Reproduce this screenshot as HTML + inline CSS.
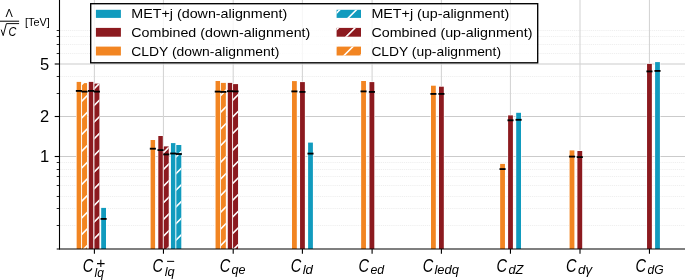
<!DOCTYPE html><html><head><meta charset="utf-8"><style>html,body{margin:0;padding:0;background:#fff;}svg{display:block;will-change:transform;}text{font-family:"Liberation Sans",sans-serif;}</style></head><body>
<svg width="685" height="280" viewBox="0 0 685 280">
<defs>
<pattern id="h" patternUnits="userSpaceOnUse" width="16.667" height="16.667" x="16.200" y="0"><path d="M-2,2 L2,-2 M0,16.667 L16.667,0 M14.667000000000002,18.667 L18.667,14.667000000000002" stroke="#fff" stroke-width="1.6"/></pattern>
</defs>
<rect width="685" height="280" fill="#fff"/>
<line x1="59.5" x2="685" y1="225.50" y2="225.50" stroke="#ebebeb" stroke-width="0.8" stroke-dasharray="1.2,0.9"/>
<line x1="59.5" x2="685" y1="208.50" y2="208.50" stroke="#ebebeb" stroke-width="0.8" stroke-dasharray="1.2,0.9"/>
<line x1="59.5" x2="685" y1="196.50" y2="196.50" stroke="#ebebeb" stroke-width="0.8" stroke-dasharray="1.2,0.9"/>
<line x1="59.5" x2="685" y1="185.50" y2="185.50" stroke="#ebebeb" stroke-width="0.8" stroke-dasharray="1.2,0.9"/>
<line x1="59.5" x2="685" y1="176.50" y2="176.50" stroke="#ebebeb" stroke-width="0.8" stroke-dasharray="1.2,0.9"/>
<line x1="59.5" x2="685" y1="169.50" y2="169.50" stroke="#ebebeb" stroke-width="0.8" stroke-dasharray="1.2,0.9"/>
<line x1="59.5" x2="685" y1="162.50" y2="162.50" stroke="#ebebeb" stroke-width="0.8" stroke-dasharray="1.2,0.9"/>
<line x1="59.5" x2="685" y1="93.50" y2="93.50" stroke="#ebebeb" stroke-width="0.8" stroke-dasharray="1.2,0.9"/>
<line x1="59.5" x2="685" y1="76.50" y2="76.50" stroke="#ebebeb" stroke-width="0.8" stroke-dasharray="1.2,0.9"/>
<line x1="59.5" x2="685" y1="53.50" y2="53.50" stroke="#ebebeb" stroke-width="0.8" stroke-dasharray="1.2,0.9"/>
<line x1="59.5" x2="685" y1="44.50" y2="44.50" stroke="#ebebeb" stroke-width="0.8" stroke-dasharray="1.2,0.9"/>
<line x1="59.5" x2="685" y1="36.50" y2="36.50" stroke="#ebebeb" stroke-width="0.8" stroke-dasharray="1.2,0.9"/>
<line x1="59.5" x2="685" y1="30.50" y2="30.50" stroke="#ebebeb" stroke-width="0.8" stroke-dasharray="1.2,0.9"/>
<line x1="59.5" x2="685" y1="156.50" y2="156.50" stroke="#cbcbcb" stroke-width="1.1"/>
<line x1="59.5" x2="685" y1="116.50" y2="116.50" stroke="#cbcbcb" stroke-width="1.1"/>
<line x1="59.5" x2="685" y1="64.00" y2="64.00" stroke="#cbcbcb" stroke-width="1.1"/>
<line x1="94.4" x2="94.4" y1="0" y2="249.0" stroke="#d5d5d5" stroke-width="1.1"/>
<line x1="163.45" x2="163.45" y1="0" y2="249.0" stroke="#d5d5d5" stroke-width="1.1"/>
<line x1="233.2" x2="233.2" y1="0" y2="249.0" stroke="#d5d5d5" stroke-width="1.1"/>
<line x1="302.4" x2="302.4" y1="0" y2="249.0" stroke="#d5d5d5" stroke-width="1.1"/>
<line x1="372.1" x2="372.1" y1="0" y2="249.0" stroke="#d5d5d5" stroke-width="1.1"/>
<line x1="441.4" x2="441.4" y1="0" y2="249.0" stroke="#d5d5d5" stroke-width="1.1"/>
<line x1="510.45" x2="510.45" y1="0" y2="249.0" stroke="#d5d5d5" stroke-width="1.1"/>
<line x1="580.0" x2="580.0" y1="0" y2="249.0" stroke="#d5d5d5" stroke-width="1.1"/>
<line x1="649.45" x2="649.45" y1="0" y2="249.0" stroke="#d5d5d5" stroke-width="1.1"/>
<rect x="76.10" y="81.35" width="5.60" height="167.65" fill="#fff"/>
<rect x="76.65" y="81.90" width="4.5" height="167.10" fill="#f28522"/>
<rect x="81.50" y="82.55" width="6.10" height="166.45" fill="#fff"/>
<rect x="82.05" y="83.10" width="5.0" height="165.90" fill="#f28522"/>
<clipPath id="c1"><rect x="82.05" y="83.10" width="5.00" height="165.90"/></clipPath><path d="M80.05,52.82L89.05,43.82M80.05,69.49L89.05,60.49M80.05,86.15L89.05,77.15M80.05,102.82L89.05,93.82M80.05,119.49L89.05,110.49M80.05,136.15L89.05,127.15M80.05,152.82L89.05,143.82M80.05,169.49L89.05,160.49M80.05,186.16L89.05,177.16M80.05,202.82L89.05,193.82M80.05,219.49L89.05,210.49M80.05,236.16L89.05,227.16M80.05,252.82L89.05,243.82M80.05,269.49L89.05,260.49M80.05,286.16L89.05,277.16" stroke="#fff" stroke-width="1.6" clip-path="url(#c1)"/>
<rect x="88.25" y="81.35" width="5.60" height="167.65" fill="#fff"/>
<rect x="88.80" y="81.90" width="4.5" height="167.10" fill="#8c1a1f"/>
<rect x="93.85" y="83.05" width="6.10" height="165.95" fill="#fff"/>
<rect x="94.40" y="83.60" width="5.0" height="165.40" fill="#8c1a1f"/>
<clipPath id="c2"><rect x="94.40" y="83.60" width="5.00" height="165.40"/></clipPath><path d="M92.40,57.14L101.40,48.14M92.40,73.80L101.40,64.80M92.40,90.47L101.40,81.47M92.40,107.14L101.40,98.14M92.40,123.80L101.40,114.80M92.40,140.47L101.40,131.47M92.40,157.14L101.40,148.14M92.40,173.81L101.40,164.81M92.40,190.47L101.40,181.47M92.40,207.14L101.40,198.14M92.40,223.81L101.40,214.81M92.40,240.47L101.40,231.47M92.40,257.14L101.40,248.14M92.40,273.81L101.40,264.81" stroke="#fff" stroke-width="1.6" clip-path="url(#c2)"/>
<rect x="100.65" y="207.35" width="5.90" height="41.65" fill="#fff"/>
<rect x="101.20" y="207.90" width="4.8" height="41.10" fill="#119bbe"/>
<rect x="150.05" y="139.45" width="5.60" height="109.55" fill="#fff"/>
<rect x="150.60" y="140.00" width="4.5" height="109.00" fill="#f28522"/>
<rect x="157.75" y="135.45" width="5.60" height="113.55" fill="#fff"/>
<rect x="158.30" y="136.00" width="4.5" height="113.00" fill="#8c1a1f"/>
<rect x="163.20" y="145.85" width="6.10" height="103.15" fill="#fff"/>
<rect x="163.75" y="146.40" width="5.0" height="102.60" fill="#8c1a1f"/>
<clipPath id="c3"><rect x="163.75" y="146.40" width="5.00" height="102.60"/></clipPath><path d="M161.75,121.12L170.75,112.12M161.75,137.79L170.75,128.79M161.75,154.46L170.75,145.46M161.75,171.12L170.75,162.12M161.75,187.79L170.75,178.79M161.75,204.46L170.75,195.46M161.75,221.12L170.75,212.12M161.75,237.79L170.75,228.79M161.75,254.46L170.75,245.46M161.75,271.13L170.75,262.13M161.75,287.79L170.75,278.79" stroke="#fff" stroke-width="1.6" clip-path="url(#c3)"/>
<rect x="170.40" y="142.55" width="5.60" height="106.45" fill="#fff"/>
<rect x="170.95" y="143.10" width="4.5" height="105.90" fill="#119bbe"/>
<rect x="175.75" y="144.45" width="6.10" height="104.55" fill="#fff"/>
<rect x="176.30" y="145.00" width="5.0" height="104.00" fill="#119bbe"/>
<clipPath id="c4"><rect x="176.30" y="145.00" width="5.00" height="104.00"/></clipPath><path d="M174.30,125.24L183.30,116.24M174.30,141.91L183.30,132.91M174.30,158.57L183.30,149.57M174.30,175.24L183.30,166.24M174.30,191.91L183.30,182.91M174.30,208.57L183.30,199.57M174.30,225.24L183.30,216.24M174.30,241.91L183.30,232.91M174.30,258.58L183.30,249.58M174.30,275.24L183.30,266.24" stroke="#fff" stroke-width="1.6" clip-path="url(#c4)"/>
<rect x="215.00" y="80.45" width="5.60" height="168.55" fill="#fff"/>
<rect x="215.55" y="81.00" width="4.5" height="168.00" fill="#f28522"/>
<rect x="220.30" y="82.35" width="6.10" height="166.65" fill="#fff"/>
<rect x="220.85" y="82.90" width="5.0" height="166.10" fill="#f28522"/>
<clipPath id="c5"><rect x="220.85" y="82.90" width="5.00" height="166.10"/></clipPath><path d="M218.85,64.02L227.85,55.02M218.85,80.69L227.85,71.69M218.85,97.36L227.85,88.36M218.85,114.02L227.85,105.02M218.85,130.69L227.85,121.69M218.85,147.36L227.85,138.36M218.85,164.02L227.85,155.02M218.85,180.69L227.85,171.69M218.85,197.36L227.85,188.36M218.85,214.03L227.85,205.03M218.85,230.69L227.85,221.69M218.85,247.36L227.85,238.36M218.85,264.03L227.85,255.03M218.85,280.69L227.85,271.69" stroke="#fff" stroke-width="1.6" clip-path="url(#c5)"/>
<rect x="227.25" y="82.35" width="5.60" height="166.65" fill="#fff"/>
<rect x="227.80" y="82.90" width="4.5" height="166.10" fill="#8c1a1f"/>
<rect x="232.50" y="83.55" width="6.10" height="165.45" fill="#fff"/>
<rect x="233.05" y="84.10" width="5.0" height="164.90" fill="#8c1a1f"/>
<clipPath id="c6"><rect x="233.05" y="84.10" width="5.00" height="164.90"/></clipPath><path d="M231.05,68.49L240.05,59.49M231.05,85.16L240.05,76.16M231.05,101.82L240.05,92.82M231.05,118.49L240.05,109.49M231.05,135.16L240.05,126.16M231.05,151.82L240.05,142.82M231.05,168.49L240.05,159.49M231.05,185.16L240.05,176.16M231.05,201.83L240.05,192.83M231.05,218.49L240.05,209.49M231.05,235.16L240.05,226.16M231.05,251.83L240.05,242.83M231.05,268.49L240.05,259.49M231.05,285.16L240.05,276.16" stroke="#fff" stroke-width="1.6" clip-path="url(#c6)"/>
<rect x="291.45" y="80.55" width="5.90" height="168.45" fill="#fff"/>
<rect x="292.00" y="81.10" width="4.8" height="167.90" fill="#f28522"/>
<rect x="299.50" y="81.55" width="5.90" height="167.45" fill="#fff"/>
<rect x="300.05" y="82.10" width="4.8" height="166.90" fill="#8c1a1f"/>
<rect x="307.55" y="142.05" width="5.90" height="106.95" fill="#fff"/>
<rect x="308.10" y="142.60" width="4.8" height="106.40" fill="#119bbe"/>
<rect x="360.60" y="80.45" width="5.90" height="168.55" fill="#fff"/>
<rect x="361.15" y="81.00" width="4.8" height="168.00" fill="#f28522"/>
<rect x="368.95" y="81.55" width="5.90" height="167.45" fill="#fff"/>
<rect x="369.50" y="82.10" width="4.8" height="166.90" fill="#8c1a1f"/>
<rect x="430.45" y="85.15" width="5.90" height="163.85" fill="#fff"/>
<rect x="431.00" y="85.70" width="4.8" height="163.30" fill="#f28522"/>
<rect x="438.45" y="86.15" width="5.90" height="162.85" fill="#fff"/>
<rect x="439.00" y="86.70" width="4.8" height="162.30" fill="#8c1a1f"/>
<rect x="499.60" y="163.35" width="5.90" height="85.65" fill="#fff"/>
<rect x="500.15" y="163.90" width="4.8" height="85.10" fill="#f28522"/>
<rect x="507.55" y="114.85" width="5.90" height="134.15" fill="#fff"/>
<rect x="508.10" y="115.40" width="4.8" height="133.60" fill="#8c1a1f"/>
<rect x="515.65" y="112.25" width="5.90" height="136.75" fill="#fff"/>
<rect x="516.20" y="112.80" width="4.8" height="136.20" fill="#119bbe"/>
<rect x="569.05" y="149.85" width="5.90" height="99.15" fill="#fff"/>
<rect x="569.60" y="150.40" width="4.8" height="98.60" fill="#f28522"/>
<rect x="576.85" y="150.45" width="5.90" height="98.55" fill="#fff"/>
<rect x="577.40" y="151.00" width="4.8" height="98.00" fill="#8c1a1f"/>
<rect x="646.50" y="63.35" width="5.90" height="185.65" fill="#fff"/>
<rect x="647.05" y="63.90" width="4.8" height="185.10" fill="#8c1a1f"/>
<rect x="654.55" y="61.55" width="5.90" height="187.45" fill="#fff"/>
<rect x="655.10" y="62.10" width="4.8" height="186.90" fill="#119bbe"/>
<line x1="75.85" x2="81.95" y1="90.9" y2="90.9" stroke="#000" stroke-width="1.85"/>
<line x1="81.50" x2="87.60" y1="91.6" y2="91.6" stroke="#000" stroke-width="1.85"/>
<line x1="88.00" x2="94.10" y1="90.9" y2="90.9" stroke="#000" stroke-width="1.85"/>
<line x1="93.85" x2="99.95" y1="91.6" y2="91.6" stroke="#000" stroke-width="1.85"/>
<line x1="100.55" x2="106.65" y1="218.9" y2="218.9" stroke="#000" stroke-width="1.85"/>
<line x1="149.80" x2="155.90" y1="148.7" y2="148.7" stroke="#000" stroke-width="1.85"/>
<line x1="157.50" x2="163.60" y1="150.1" y2="150.1" stroke="#000" stroke-width="1.85"/>
<line x1="163.20" x2="169.30" y1="154.4" y2="154.4" stroke="#000" stroke-width="1.85"/>
<line x1="170.15" x2="176.25" y1="153.5" y2="153.5" stroke="#000" stroke-width="1.85"/>
<line x1="175.75" x2="181.85" y1="154" y2="154" stroke="#000" stroke-width="1.85"/>
<line x1="214.75" x2="220.85" y1="91.6" y2="91.6" stroke="#000" stroke-width="1.85"/>
<line x1="220.30" x2="226.40" y1="91.9" y2="91.9" stroke="#000" stroke-width="1.85"/>
<line x1="227.00" x2="233.10" y1="91.2" y2="91.2" stroke="#000" stroke-width="1.85"/>
<line x1="232.50" x2="238.60" y1="91.4" y2="91.4" stroke="#000" stroke-width="1.85"/>
<line x1="291.35" x2="297.45" y1="91.4" y2="91.4" stroke="#000" stroke-width="1.85"/>
<line x1="299.40" x2="305.50" y1="91.9" y2="91.9" stroke="#000" stroke-width="1.85"/>
<line x1="307.45" x2="313.55" y1="153.6" y2="153.6" stroke="#000" stroke-width="1.85"/>
<line x1="360.50" x2="366.60" y1="91.4" y2="91.4" stroke="#000" stroke-width="1.85"/>
<line x1="368.85" x2="374.95" y1="91.9" y2="91.9" stroke="#000" stroke-width="1.85"/>
<line x1="430.35" x2="436.45" y1="93.9" y2="93.9" stroke="#000" stroke-width="1.85"/>
<line x1="438.35" x2="444.45" y1="93.9" y2="93.9" stroke="#000" stroke-width="1.85"/>
<line x1="499.50" x2="505.60" y1="169.1" y2="169.1" stroke="#000" stroke-width="1.85"/>
<line x1="507.45" x2="513.55" y1="120.3" y2="120.3" stroke="#000" stroke-width="1.85"/>
<line x1="515.55" x2="521.65" y1="119.8" y2="119.8" stroke="#000" stroke-width="1.85"/>
<line x1="568.95" x2="575.05" y1="156.6" y2="156.6" stroke="#000" stroke-width="1.85"/>
<line x1="576.75" x2="582.85" y1="157.1" y2="157.1" stroke="#000" stroke-width="1.85"/>
<line x1="646.40" x2="652.50" y1="71.4" y2="71.4" stroke="#000" stroke-width="1.85"/>
<line x1="654.45" x2="660.55" y1="70.9" y2="70.9" stroke="#000" stroke-width="1.85"/>
<line x1="59.5" x2="59.5" y1="0" y2="249.55" stroke="#000" stroke-width="1.1"/>
<line x1="56.7" x2="685" y1="249.0" y2="249.0" stroke="#000" stroke-width="1.1"/>
<line x1="54.7" x2="59.5" y1="156.50" y2="156.50" stroke="#000" stroke-width="1.1"/>
<line x1="54.7" x2="59.5" y1="116.50" y2="116.50" stroke="#000" stroke-width="1.1"/>
<line x1="54.7" x2="59.5" y1="64.00" y2="64.00" stroke="#000" stroke-width="1.1"/>
<line x1="56.7" x2="59.5" y1="225.50" y2="225.50" stroke="#000" stroke-width="0.85"/>
<line x1="56.7" x2="59.5" y1="208.50" y2="208.50" stroke="#000" stroke-width="0.85"/>
<line x1="56.7" x2="59.5" y1="196.50" y2="196.50" stroke="#000" stroke-width="0.85"/>
<line x1="56.7" x2="59.5" y1="185.50" y2="185.50" stroke="#000" stroke-width="0.85"/>
<line x1="56.7" x2="59.5" y1="176.50" y2="176.50" stroke="#000" stroke-width="0.85"/>
<line x1="56.7" x2="59.5" y1="169.50" y2="169.50" stroke="#000" stroke-width="0.85"/>
<line x1="56.7" x2="59.5" y1="162.50" y2="162.50" stroke="#000" stroke-width="0.85"/>
<line x1="56.7" x2="59.5" y1="93.50" y2="93.50" stroke="#000" stroke-width="0.85"/>
<line x1="56.7" x2="59.5" y1="76.50" y2="76.50" stroke="#000" stroke-width="0.85"/>
<line x1="56.7" x2="59.5" y1="53.50" y2="53.50" stroke="#000" stroke-width="0.85"/>
<line x1="56.7" x2="59.5" y1="44.50" y2="44.50" stroke="#000" stroke-width="0.85"/>
<line x1="56.7" x2="59.5" y1="36.50" y2="36.50" stroke="#000" stroke-width="0.85"/>
<line x1="56.7" x2="59.5" y1="30.50" y2="30.50" stroke="#000" stroke-width="0.85"/>
<line x1="94.4" x2="94.4" y1="249.0" y2="253.8" stroke="#000" stroke-width="1.1"/>
<line x1="163.45" x2="163.45" y1="249.0" y2="253.8" stroke="#000" stroke-width="1.1"/>
<line x1="233.2" x2="233.2" y1="249.0" y2="253.8" stroke="#000" stroke-width="1.1"/>
<line x1="302.4" x2="302.4" y1="249.0" y2="253.8" stroke="#000" stroke-width="1.1"/>
<line x1="372.1" x2="372.1" y1="249.0" y2="253.8" stroke="#000" stroke-width="1.1"/>
<line x1="441.4" x2="441.4" y1="249.0" y2="253.8" stroke="#000" stroke-width="1.1"/>
<line x1="510.45" x2="510.45" y1="249.0" y2="253.8" stroke="#000" stroke-width="1.1"/>
<line x1="580.0" x2="580.0" y1="249.0" y2="253.8" stroke="#000" stroke-width="1.1"/>
<line x1="649.45" x2="649.45" y1="249.0" y2="253.8" stroke="#000" stroke-width="1.1"/>
<text x="49.3" y="162.30" font-size="16.5" text-anchor="end" fill="#000">1</text>
<text x="49.3" y="122.30" font-size="16.5" text-anchor="end" fill="#000">2</text>
<text x="49.3" y="69.80" font-size="16.5" text-anchor="end" fill="#000">5</text>
<rect x="90.7" y="3.7" width="447" height="59.1" fill="#fff" fill-opacity="0.8" stroke="#000" stroke-width="1.35"/>
<rect x="95.9" y="9.8" width="25" height="8.10" fill="#119bbe"/>
<rect x="336.6" y="9.8" width="24.4" height="8.10" fill="#119bbe"/>
<clipPath id="c7"><rect x="336.60" y="9.80" width="24.40" height="8.10"/></clipPath><path d="M334.60,-18.39L363.00,-46.79M334.60,-1.73L363.00,-30.13M334.60,14.94L363.00,-13.46M334.60,31.61L363.00,3.21M334.60,48.27L363.00,19.87M334.60,64.94L363.00,36.54" stroke="#fff" stroke-width="1.6" clip-path="url(#c7)"/>
<text x="131.3" y="18.2" font-size="12.8" textLength="156" lengthAdjust="spacingAndGlyphs">MET+j (down-alignment)</text>
<text x="371.4" y="18.2" font-size="12.8" textLength="137.8" lengthAdjust="spacingAndGlyphs">MET+j (up-alignment)</text>
<rect x="95.9" y="27.9" width="25" height="8.80" fill="#8c1a1f"/>
<rect x="336.6" y="27.9" width="24.4" height="8.80" fill="#8c1a1f"/>
<clipPath id="c8"><rect x="336.60" y="27.90" width="24.40" height="8.80"/></clipPath><path d="M334.60,-1.73L363.00,-30.13M334.60,14.94L363.00,-13.46M334.60,31.61L363.00,3.21M334.60,48.27L363.00,19.87M334.60,64.94L363.00,36.54M334.60,81.61L363.00,53.21" stroke="#fff" stroke-width="1.6" clip-path="url(#c8)"/>
<text x="131.3" y="36.9" font-size="12.8" textLength="179" lengthAdjust="spacingAndGlyphs">Combined (down-alignment)</text>
<text x="371.4" y="36.9" font-size="12.8" textLength="161" lengthAdjust="spacingAndGlyphs">Combined (up-alignment)</text>
<rect x="95.9" y="46.6" width="25" height="8.90" fill="#f28522"/>
<rect x="336.6" y="46.6" width="24.4" height="8.90" fill="#f28522"/>
<clipPath id="c9"><rect x="336.60" y="46.60" width="24.40" height="8.90"/></clipPath><path d="M334.60,31.61L363.00,3.21M334.60,48.27L363.00,19.87M334.60,64.94L363.00,36.54M334.60,81.61L363.00,53.21M334.60,98.28L363.00,69.88M334.60,114.94L363.00,86.54" stroke="#fff" stroke-width="1.6" clip-path="url(#c9)"/>
<text x="131.3" y="55.6" font-size="12.8" textLength="148" lengthAdjust="spacingAndGlyphs">CLDY (down-alignment)</text>
<text x="371.4" y="55.6" font-size="12.8" textLength="129.6" lengthAdjust="spacingAndGlyphs">CLDY (up-alignment)</text>
<text x="82.80" y="271.80" font-size="17.5" font-style="italic" textLength="10.53" lengthAdjust="spacingAndGlyphs">C</text>
<text x="94.51" y="277.00" font-size="12.2" font-style="italic" textLength="9.27" lengthAdjust="spacingAndGlyphs">lq</text>
<text x="96.24" y="267.50" font-size="14.7" textLength="9.14" lengthAdjust="spacingAndGlyphs">+</text>
<text x="152.60" y="271.80" font-size="17.5" font-style="italic" textLength="10.53" lengthAdjust="spacingAndGlyphs">C</text>
<text x="164.70" y="275.80" font-size="12.2" font-style="italic" textLength="9.89" lengthAdjust="spacingAndGlyphs">lq</text>
<text x="166.28" y="266.25" font-size="14.6" textLength="8.53" lengthAdjust="spacingAndGlyphs">−</text>
<text x="219.80" y="271.80" font-size="17.5" font-style="italic" textLength="10.53" lengthAdjust="spacingAndGlyphs">C</text>
<text x="231.48" y="274.20" font-size="12.2" font-style="italic" textLength="13.99" lengthAdjust="spacingAndGlyphs">qe</text>
<text x="290.70" y="271.80" font-size="17.5" font-style="italic" textLength="10.53" lengthAdjust="spacingAndGlyphs">C</text>
<text x="302.69" y="274.20" font-size="12.2" font-style="italic" textLength="10.26" lengthAdjust="spacingAndGlyphs">ld</text>
<text x="358.50" y="271.80" font-size="17.5" font-style="italic" textLength="10.53" lengthAdjust="spacingAndGlyphs">C</text>
<text x="370.49" y="274.20" font-size="12.2" font-style="italic" textLength="13.69" lengthAdjust="spacingAndGlyphs">ed</text>
<text x="422.80" y="271.80" font-size="17.5" font-style="italic" textLength="10.53" lengthAdjust="spacingAndGlyphs">C</text>
<text x="434.49" y="274.20" font-size="12.2" font-style="italic" textLength="24.40" lengthAdjust="spacingAndGlyphs">ledq</text>
<text x="496.50" y="271.80" font-size="17.5" font-style="italic" textLength="10.53" lengthAdjust="spacingAndGlyphs">C</text>
<text x="508.47" y="274.20" font-size="12.2" font-style="italic" textLength="14.98" lengthAdjust="spacingAndGlyphs">dZ</text>
<text x="566.10" y="271.80" font-size="17.5" font-style="italic" textLength="10.53" lengthAdjust="spacingAndGlyphs">C</text>
<text x="578.05" y="274.20" font-size="12.2" font-style="italic" textLength="14.12" lengthAdjust="spacingAndGlyphs">dγ</text>
<text x="635.50" y="271.80" font-size="17.5" font-style="italic" textLength="10.53" lengthAdjust="spacingAndGlyphs">C</text>
<text x="647.49" y="274.20" font-size="12.2" font-style="italic" textLength="16.13" lengthAdjust="spacingAndGlyphs">dG</text>
<text x="5.45" y="16.90" font-size="10.6" textLength="7.31" lengthAdjust="spacingAndGlyphs">Λ</text>
<rect x="0" y="20.7" width="19.1" height="1.0" fill="#000"/>
<path d="M1.2,29.6 L3.2,35.6 L6.4,23.6 L19.1,23.6" fill="none" stroke="#000" stroke-width="0.95"/>
<text x="8.50" y="35.60" font-size="12.0" font-style="italic" textLength="7.84" lengthAdjust="spacingAndGlyphs">C</text>
<text x="24.96" y="25.60" font-size="10.2" textLength="24.78" lengthAdjust="spacingAndGlyphs">[TeV]</text>
</svg></body></html>
